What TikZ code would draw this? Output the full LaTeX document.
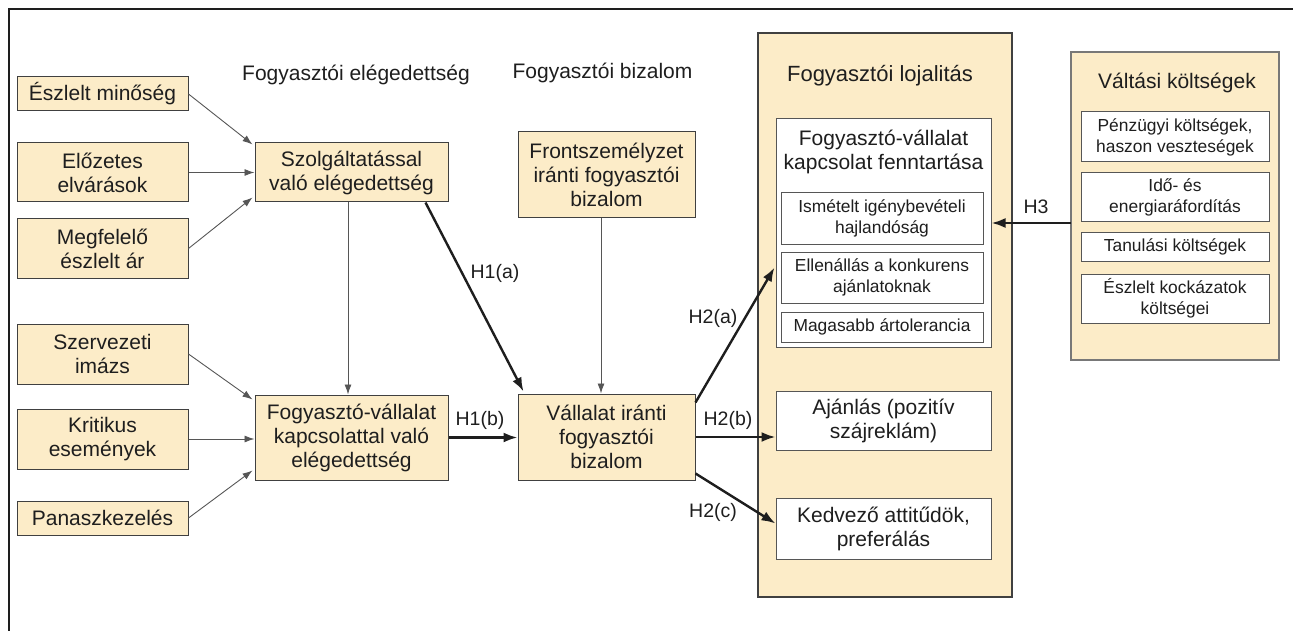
\documentclass[tikz,border=0pt]{standalone}
\usepackage{fontspec}
\setmainfont{Liberation Sans}
\usetikzlibrary{arrows.meta,calc}
\definecolor{beige}{RGB}{252,236,200}
\definecolor{ink}{RGB}{30,30,30}
\begin{document}
\begin{tikzpicture}[x=1pt,y=-1pt,
  box/.style={draw=ink!85, line width=1pt, fill=beige, align=center, inner sep=0pt, font=\fontsize{21}{24}\selectfont, text=ink},
  wbox/.style={draw=ink!75, line width=1pt, fill=white, align=center, inner sep=0pt, font=\fontsize{21}{24}\selectfont, text=ink},
  sbox/.style={draw=ink!75, line width=1pt, fill=white, align=center, inner sep=0pt, font=\fontsize{17.4}{21}\selectfont, text=ink},
  bigbox/.style={draw=ink!85, fill=beige, inner sep=0pt},
  ttl/.style={font=\fontsize{21}{24}\selectfont, text=ink, align=center},
  hlab/.style={font=\fontsize{19.5}{22}\selectfont, text=ink},
  inarrow/.style={draw=ink!75, line width=0.9pt, -{Latex[length=10pt,width=7pt]}},
  harrow/.style={draw=ink, line width=2.4pt, -{Latex[length=14pt,width=10pt]}}
]
\useasboundingbox (0,0) rectangle (1293,631);
\draw[line width=1.3pt, ink] (9,631) -- (9,9) -- (1293,9);

% section labels
\node[ttl] (lsat) at (356,75) {Fogyasztói elégedettség};
\node[ttl] (ltrust) at (602.5,73) {Fogyasztói bizalom};

% left inputs
\node[box, minimum width=171pt, minimum height=34pt] (e1) at (102.5,94) {Észlelt minőség};
\node[box, minimum width=171pt, minimum height=59pt] (e2) at (102.5,172.5) {Előzetes\\elvárások};
\node[box, minimum width=171pt, minimum height=59pt] (e3) at (102.5,248.5) {Megfelelő\\észlelt ár};
\node[box, minimum width=171pt, minimum height=60pt] (e4) at (102.5,354) {Szervezeti\\imázs};
\node[box, minimum width=171pt, minimum height=60pt] (e5) at (102.5,439) {Kritikus\\események};
\node[box, minimum width=171pt, minimum height=34pt] (e6) at (102.5,518) {Panaszkezelés};

% middle
\node[box, minimum width=193pt, minimum height=59pt] (szolg) at (351.5,172.5) {Szolgáltatással\\való elégedettség};
\node[box, minimum width=193pt, minimum height=85pt] (fvkap) at (351.5,437.5) {Fogyasztó-vállalat\\kapcsolattal való\\elégedettség};
\node[box, minimum width=177pt, minimum height=86pt] (front) at (606.5,175) {Frontszemélyzet\\iránti fogyasztói\\bizalom};
\node[box, minimum width=177pt, minimum height=86pt] (vall) at (606.5,437) {Vállalat iránti\\fogyasztói\\bizalom};

% loyalty
\node[bigbox, line width=2pt, minimum width=254pt, minimum height=564pt] (loyal) at (885,315) {};
\node[ttl, font=\fontsize{22}{25}\selectfont] (lloyal) at (880,76) {Fogyasztói lojalitás};
\node[wbox, minimum width=215pt, minimum height=228pt] (inner) at (883.5,233) {};
\node[ttl] (linner) at (883.5,152) {Fogyasztó-vállalat\\kapcsolat fenntartása};
\node[sbox, minimum width=202pt, minimum height=51pt] (sub1) at (882,218.5) {Ismételt igénybevételi\\hajlandóság};
\node[sbox, minimum width=202pt, minimum height=51pt] (sub2) at (882,277.5) {Ellenállás a konkurens\\ajánlatoknak};
\node[sbox, minimum width=202pt, minimum height=30pt] (sub3) at (882,327) {Magasabb ártolerancia};
\node[wbox, minimum width=215pt, minimum height=59pt] (ajan) at (883.5,420.5) {Ajánlás (pozitív\\szájreklám)};
\node[wbox, minimum width=215pt, minimum height=61pt] (kedv) at (883.5,528.5) {Kedvező attitűdök,\\preferálás};

% switching costs
\node[bigbox, draw=ink!60, line width=1.5pt, minimum width=208pt, minimum height=308pt] (valt) at (1175,206) {};
\node[ttl] (lvalt) at (1177,83) {Váltási költségek};
\node[sbox, minimum width=188pt, minimum height=50pt] (v1) at (1175,137) {Pénzügyi költségek,\\haszon veszteségek};
\node[sbox, minimum width=188pt, minimum height=49pt] (v2) at (1175,197.5) {Idő- és\\energiaráfordítás};
\node[sbox, minimum width=188pt, minimum height=28pt] (v3) at (1175,247) {Tanulási költségek};
\node[sbox, minimum width=188pt, minimum height=49pt] (v4) at (1175,298.5) {Észlelt kockázatok\\költségei};

% thin input arrows
\draw[inarrow] (e1.east) -- ($(szolg.north west)+(-2,2)$);
\draw[inarrow] (e2.east) -- (e2.east -| szolg.west);
\draw[inarrow] (e3.east) -- ($(szolg.south west)+(-2,-5)$);
\draw[inarrow] (e4.east) -- ($(fvkap.north west)+(-2,5)$);
\draw[inarrow] (e5.east) -- (e5.east -| fvkap.west);
\draw[inarrow] (e6.east) -- ($(fvkap.south west)+(-2,-10)$);
\draw[inarrow] (szolg.south -| 348,0) -- (fvkap.north -| 348,0);
\draw[inarrow] (front.south -| 601,0) -- (vall.north -| 601,0);

% hypothesis arrows
\draw[harrow] ($(szolg.south east)+(-23,0)$) -- ($(vall.north west)+(6,-2)$);
\node[hlab] (h1a) at (495,273) {H1(a)};
\draw[harrow] (fvkap.east) -- (fvkap.east -| vall.west);
\node[hlab] (h1b) at (480,420) {H1(b)};
\draw[harrow] ($(vall.north east)+(0,9)$) -- ($(sub2.west)+(-6,-10)$);
\node[hlab] (h2a) at (713,318) {H2(a)};
\draw[harrow] (vall.east) -- (vall.east -| ajan.west);
\node[hlab] (h2b) at (728,420) {H2(b)};
\draw[harrow] ($(vall.south east)+(0,-7)$) -- ($(kedv.west)+(0,-5)$);
\node[hlab] (h2c) at (713,512) {H2(c)};
\coordinate (h3) at (1071,223);
\draw[harrow] (h3) -- (h3 -| inner.east);
\node[hlab] (h3l) at (1036,207) {H3};
\end{tikzpicture}
\end{document}
